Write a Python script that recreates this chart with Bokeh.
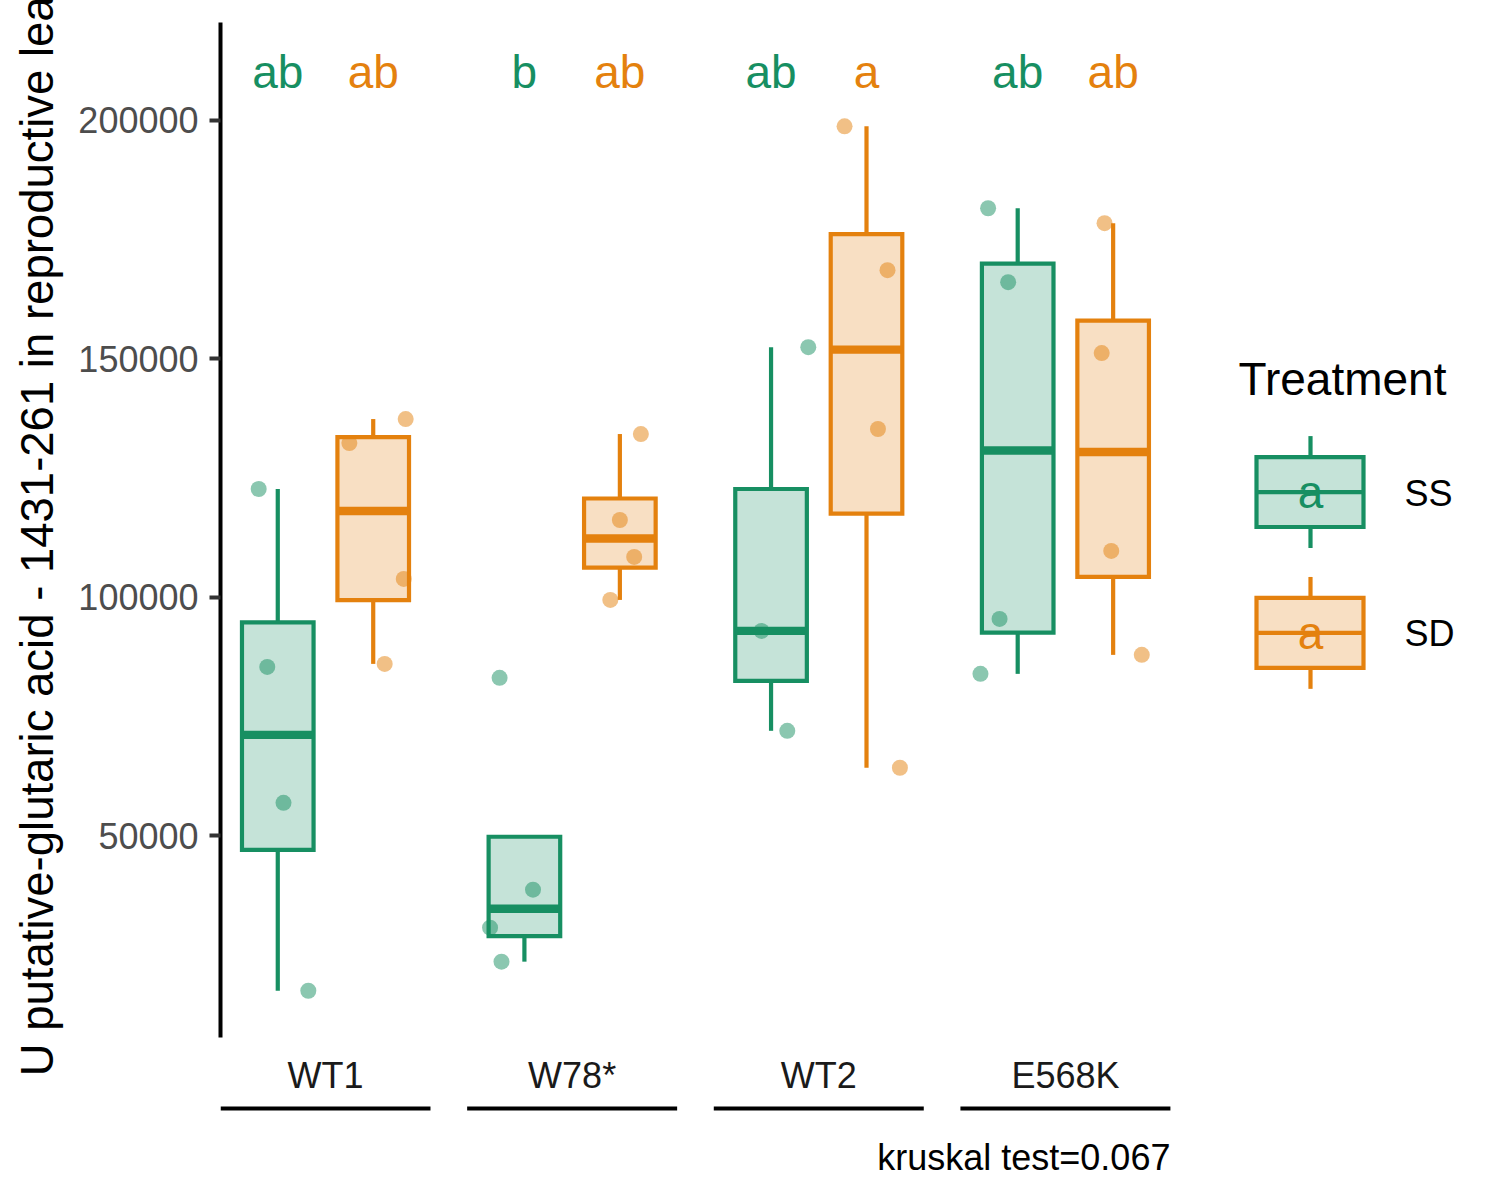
import numpy as np
from bokeh.plotting import figure
from bokeh.layouts import column
from bokeh.models import Range1d, FixedTicker, BasicTickFormatter
from bokeh.core.properties import value
from bokeh.embed import file_html
from bokeh.resources import INLINE

# ---------------- data ----------------
GENOTYPES = ["WT1", "W78*", "WT2", "E568K"]
TREATMENTS = ["SS", "SD"]

WT1_SS = [122700, 85400, 56900, 17500]
WT1_SD = [132330, 103840, 86030, 137360]
W78_SS = [83100, 38690, 30720, 23600]
W78_SD = [116200, 108450, 99440, 134220]
WT2_SS = [152440, 92950, 72000]
WT2_SD = [198740, 168580, 135270, 64250]
E568K_SS = [181560, 166060, 95460, 83940]
E568K_SD = [178420, 151190, 109710, 87920]

# horizontal jitter of each point (in category units)
WT1_SS_JIT = [-0.20, -0.11, 0.06, 0.32]
WT1_SD_JIT = [-0.25, 0.32, 0.12, 0.34]
W78_SS_JIT = [-0.26, 0.09, -0.36, -0.24]
W78_SD_JIT = [0.00, 0.15, -0.10, 0.22]
WT2_SS_JIT = [0.39, -0.10, 0.17]
WT2_SD_JIT = [-0.23, 0.22, 0.12, 0.35]
E568K_SS_JIT = [-0.31, -0.10, -0.19, -0.39]
E568K_SD_JIT = [-0.09, -0.12, -0.02, 0.30]

LETTERS_SS = ["ab", "b", "ab", "ab"]
LETTERS_SD = ["ab", "ab", "a", "ab"]

Y_TICKS = [50000, 100000, 150000, 200000]
Y_LABEL = "U putative-glutaric acid - 1431-261 in reproductive leaf"
CAPTION = "kruskal test=0.067"
LEGEND_TITLE = "Treatment"

SS_VALUES = [WT1_SS, W78_SS, WT2_SS, E568K_SS]
SD_VALUES = [WT1_SD, W78_SD, WT2_SD, E568K_SD]
SS_JIT = [WT1_SS_JIT, W78_SS_JIT, WT2_SS_JIT, E568K_SS_JIT]
SD_JIT = [WT1_SD_JIT, W78_SD_JIT, WT2_SD_JIT, E568K_SD_JIT]

# ---------------- style / layout ----------------
COLORS = {"SS": "#178F62", "SD": "#E4810E"}
FONT = "Liberation Sans"
FILL_ALPHA = 0.25
PT_ALPHA = 0.5
BOX_W = 0.75
LW = 4.2

PANEL_W = 2.2          # discrete scale with 2 levels, expanded by 0.6
PANEL_GAP = 0.384      # gap between facet panels
PANEL_STEP = PANEL_W + PANEL_GAP

FRAME_LEFT = 220
FRAME_TOP = 22
FRAME_H = 1016
BOTTOM_PANEL = 60
PX_X = 95.45
Y_MIN, Y_MAX = 7700, 220500
PX_Y = FRAME_H / (Y_MAX - Y_MIN)
LETTER_Y = 210200

CANVAS_W = 1490
X_END = (CANVAS_W - FRAME_LEFT) / PX_X


def lx(px):
    return (px - FRAME_LEFT) / PX_X


def ly(py):
    return Y_MAX - (py - FRAME_TOP) / PX_Y


def box_stats(v):
    a = np.asarray(v, dtype=float)
    q1, med, q3 = np.percentile(a, [25, 50, 75])
    iqr = q3 - q1
    lo = min(a[a >= q1 - 1.5 * iqr].min(), q1)
    hi = max(a[a <= q3 + 1.5 * iqr].max(), q3)
    return q1, med, q3, lo, hi


p = figure(width=CANVAS_W, height=FRAME_TOP + FRAME_H + BOTTOM_PANEL,
           x_range=Range1d(0, X_END), y_range=Range1d(Y_MIN, Y_MAX),
           min_border_left=FRAME_LEFT, min_border_right=0,
           min_border_top=FRAME_TOP, min_border_bottom=BOTTOM_PANEL,
           output_backend="svg", toolbar_location=None)
p.outline_line_color = None
p.grid.visible = False
p.background_fill_color = "white"

ax = p.yaxis[0]
ax.ticker = FixedTicker(ticks=Y_TICKS)
ax.formatter = BasicTickFormatter(use_scientific=False)
ax.axis_label = Y_LABEL
ax.axis_label_text_font = FONT
ax.axis_label_text_font_size = "45.5px"
ax.axis_label_text_font_style = "normal"
ax.axis_label_text_color = "black"
ax.axis_label_standoff = 12
ax.major_label_text_font = FONT
ax.major_label_text_font_size = "36px"
ax.major_label_text_color = "#4D4D4D"
ax.major_label_standoff = 11
ax.axis_line_color = "black"
ax.axis_line_width = 4
ax.major_tick_line_color = "#333333"
ax.major_tick_line_width = 4
ax.major_tick_out = 11
ax.major_tick_in = 0
ax.minor_tick_line_color = None

# strip labels as the bottom axis
group_centers = [round(g * PANEL_STEP + PANEL_W / 2, 3) for g in range(len(GENOTYPES))]
xa = p.xaxis[0]
xa.ticker = FixedTicker(ticks=group_centers)
xa.major_label_overrides = {c: n for c, n in zip(group_centers, GENOTYPES)}
xa.axis_line_color = None
xa.major_tick_line_color = None
xa.minor_tick_line_color = None
xa.major_tick_out = 0
xa.major_tick_in = 0
xa.major_label_standoff = 17
xa.major_label_text_font = FONT
xa.major_label_text_font_size = "36px"
xa.major_label_text_color = "#1A1A1A"

for g in range(len(GENOTYPES)):
    left = g * PANEL_STEP
    for k, tr in enumerate(TREATMENTS):
        vals = SS_VALUES[g] if tr == "SS" else SD_VALUES[g]
        jit = SS_JIT[g] if tr == "SS" else SD_JIT[g]
        c = left + 0.6 + k
        col = COLORS[tr]
        # jittered points
        p.scatter([c + j for j in jit], vals, size=16, fill_color=col,
                  fill_alpha=PT_ALPHA, line_color=None)
        q1, med, q3, lo, hi = box_stats(vals)
        # whiskers
        p.segment(x0=[c, c], x1=[c, c], y0=[q3, q1], y1=[hi, lo],
                  line_color=col, line_width=LW)
        # box
        p.quad(left=c - BOX_W / 2, right=c + BOX_W / 2, top=q3, bottom=q1,
               fill_color=col, fill_alpha=FILL_ALPHA, line_color=col,
               line_width=LW, line_join="miter")
        p.segment(x0=[c - BOX_W / 2], x1=[c + BOX_W / 2], y0=[med], y1=[med],
                  line_color=col, line_width=2 * LW)
        letter = LETTERS_SS[g] if tr == "SS" else LETTERS_SD[g]
        p.text(x=[c], y=[LETTER_Y], text=[letter], text_color=col,
               text_font=value(FONT), text_font_size="46px",
               text_align="center", text_baseline="middle")

# ---------------- legend ----------------
p.text(x=[lx(1238)], y=[ly(379)], text=[LEGEND_TITLE], text_color="black",
       text_font=value(FONT), text_font_size="46px", text_align="left",
       text_baseline="middle")
for i, tr in enumerate(TREATMENTS):
    col = COLORS[tr]
    cy = 492 + i * 141
    kx = lx(1310)
    p.segment(x0=[kx, kx], x1=[kx, kx], y0=[ly(cy - 35), ly(cy + 35)],
              y1=[ly(cy - 56), ly(cy + 56)], line_color=col, line_width=LW)
    p.quad(left=lx(1256), right=lx(1363), top=ly(cy - 35), bottom=ly(cy + 35),
           fill_color=col, fill_alpha=FILL_ALPHA, line_color=col,
           line_width=LW, line_join="miter")
    p.segment(x0=[lx(1256)], x1=[lx(1363)], y0=[ly(cy)], y1=[ly(cy)],
              line_color=col, line_width=LW)
    p.text(x=[kx], y=[ly(cy)], text=["a"], text_color=col,
           text_font=value(FONT), text_font_size="46px", text_align="center",
           text_baseline="middle")
    p.text(x=[lx(1404)], y=[ly(cy + 1)], text=[tr], text_color="black",
           text_font=value(FONT), text_font_size="36px", text_align="left",
           text_baseline="middle")

# ---------------- axis lines under strips / caption ----------------
P2_TOP = FRAME_TOP + FRAME_H + BOTTOM_PANEL
STRIP_H = 100
p2 = figure(width=CANVAS_W, height=STRIP_H, x_range=p.x_range,
            y_range=Range1d(STRIP_H, 0),
            min_border_left=FRAME_LEFT, min_border_right=0,
            min_border_top=0, min_border_bottom=0,
            x_axis_location=None, y_axis_location=None,
            output_backend="svg", toolbar_location=None)
p2.outline_line_color = None
p2.grid.visible = False

lefts = [g * PANEL_STEP for g in range(len(GENOTYPES))]
p2.segment(x0=lefts, x1=[l + PANEL_W for l in lefts],
           y0=[1108 - P2_TOP] * len(lefts), y1=[1108 - P2_TOP] * len(lefts),
           line_color="black", line_width=4)
p2.text(x=[lefts[-1] + PANEL_W], y=[1157 - P2_TOP], text=[CAPTION],
        text_color="black", text_font=value(FONT), text_font_size="36px",
        text_align="right", text_baseline="middle")

layout = column(p, p2, spacing=0)
open("out.html", "w").write(file_html(layout, INLINE))
